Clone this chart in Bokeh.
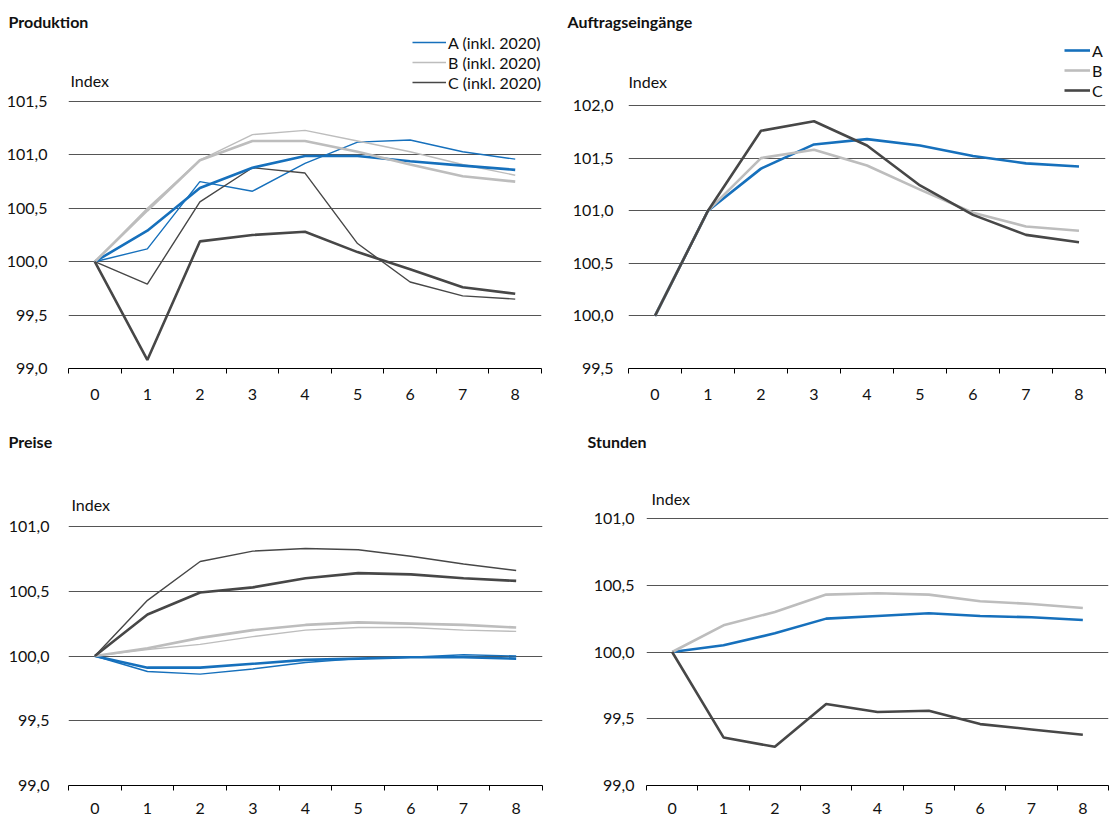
from bokeh.plotting import figure
from bokeh.models import Range1d, FixedTicker, Label, Legend, LegendItem, CustomJSTickFormatter
from bokeh.layouts import column, row
from bokeh.embed import file_html
from bokeh.resources import INLINE

FONT = "Lato"
BLUE = "#1670BC"
LIGHT = "#BDBDBD"
DARK = "#474747"
GRID = "#555555"
TXT = "#111111"

periods = [0, 1, 2, 3, 4, 5, 6, 7, 8]
band_edges = [-0.5, 0.5, 1.5, 2.5, 3.5, 4.5, 5.5, 6.5, 7.5, 8.5]

titles = ["Produktion", "Auftragseingänge", "Preise", "Stunden"]
y_caption = "Index"

# Produktion
prod_A = [100.0, 100.29, 100.69, 100.88, 100.99, 100.99, 100.94, 100.90, 100.86]
prod_A_inkl = [100.0, 100.12, 100.75, 100.66, 100.92, 101.12, 101.14, 101.03, 100.96]
prod_B = [100.0, 100.48, 100.95, 101.13, 101.13, 101.03, 100.91, 100.80, 100.75]
prod_B_inkl = [100.0, 100.50, 100.95, 101.19, 101.23, 101.13, 101.03, 100.91, 100.81]
prod_C = [100.0, 99.08, 100.19, 100.25, 100.28, 100.09, 99.93, 99.76, 99.70]
prod_C_inkl = [100.0, 99.79, 100.56, 100.88, 100.83, 100.17, 99.81, 99.68, 99.65]
prod_ticks = [99.0, 99.5, 100.0, 100.5, 101.0, 101.5]
prod_tick_labels = ["99,0", "99,5", "100,0", "100,5", "101,0", "101,5"]
prod_legend = ["A (inkl. 2020)", "B (inkl. 2020)", "C (inkl. 2020)"]

# Auftragseingänge
auf_A = [100.0, 101.0, 101.40, 101.63, 101.68, 101.62, 101.52, 101.45, 101.42]
auf_B = [100.0, 101.0, 101.50, 101.58, 101.43, 101.20, 100.98, 100.85, 100.81]
auf_C = [100.0, 101.0, 101.76, 101.85, 101.62, 101.24, 100.96, 100.77, 100.70]
auf_ticks = [99.5, 100.0, 100.5, 101.0, 101.5, 102.0]
auf_tick_labels = ["99,5", "100,0", "100,5", "101,0", "101,5", "102,0"]
auf_legend = ["A", "B", "C"]

# Preise
pre_A = [100.0, 99.91, 99.91, 99.94, 99.97, 99.98, 99.99, 99.99, 99.98]
pre_A_inkl = [100.0, 99.88, 99.86, 99.90, 99.95, 99.98, 99.99, 100.01, 100.00]
pre_B = [100.0, 100.06, 100.14, 100.20, 100.24, 100.26, 100.25, 100.24, 100.22]
pre_B_inkl = [100.0, 100.05, 100.09, 100.15, 100.20, 100.22, 100.22, 100.20, 100.19]
pre_C = [100.0, 100.32, 100.49, 100.53, 100.60, 100.64, 100.63, 100.60, 100.58]
pre_C_inkl = [100.0, 100.43, 100.73, 100.81, 100.83, 100.82, 100.77, 100.71, 100.66]
pre_ticks = [99.0, 99.5, 100.0, 100.5, 101.0]
pre_tick_labels = ["99,0", "99,5", "100,0", "100,5", "101,0"]

# Stunden
std_A = [100.0, 100.05, 100.14, 100.25, 100.27, 100.29, 100.27, 100.26, 100.24]
std_B = [100.0, 100.20, 100.30, 100.43, 100.44, 100.43, 100.38, 100.36, 100.33]
std_C = [100.0, 99.36, 99.29, 99.61, 99.55, 99.56, 99.46, 99.42, 99.38]
std_ticks = [99.0, 99.5, 100.0, 100.5, 101.0]
std_tick_labels = ["99,0", "99,5", "100,0", "100,5", "101,0"]


def panel(title, lines, ticks, tick_labels, width, height, bl, br, bt, bb,
          grid_px, ystandoff, xstandoff, title_dx, idx_dx, idx_dy,
          legend_labels=None, legend_pos=None, glyph_w=30):
    frame_h = height - bt - bb
    # extend the range above the top gridline so that captions fit in the frame
    y_end = ticks[0] + (ticks[-1] - ticks[0]) * frame_h / grid_px
    p = figure(width=width, height=height, output_backend="svg",
               toolbar_location=None,
               x_range=Range1d(-0.5, 8.5),
               y_range=Range1d(ticks[0], y_end),
               min_border_left=bl, min_border_right=br,
               min_border_top=bt, min_border_bottom=bb)
    p.outline_line_color = None
    p.xgrid.visible = False
    p.ygrid.ticker = FixedTicker(ticks=ticks)
    p.ygrid.grid_line_color = GRID
    p.ygrid.grid_line_width = 1

    p.title.text = title
    p.title.align = "left"
    p.title.offset = title_dx
    p.title.standoff = 3
    p.title.text_font = FONT
    p.title.text_font_size = "16px"
    p.title.text_font_style = "bold"
    p.title.text_color = TXT

    p.yaxis.ticker = FixedTicker(ticks=ticks)
    p.yaxis.formatter = CustomJSTickFormatter(
        args=dict(tvals=ticks, tlabs=tick_labels),
        code="""
        let best = 0;
        for (let i = 0; i < tvals.length; i++) {
            if (Math.abs(tvals[i] - tick) < Math.abs(tvals[best] - tick)) best = i;
        }
        return tlabs[best];
        """)
    p.yaxis.axis_line_color = None
    p.yaxis.major_tick_line_color = None
    p.yaxis.minor_tick_line_color = None
    p.yaxis.major_tick_out = 0
    p.yaxis.major_label_standoff = ystandoff
    p.yaxis.major_label_text_font = FONT
    p.yaxis.major_label_text_font_size = "16px"
    p.yaxis.major_label_text_color = TXT

    p.xaxis.ticker = FixedTicker(ticks=periods, minor_ticks=band_edges)
    p.xaxis.axis_line_color = "black"
    p.xaxis.axis_line_width = 1
    p.xaxis.major_tick_line_color = None
    p.xaxis.major_tick_out = 0
    p.xaxis.major_tick_in = 0
    p.xaxis.minor_tick_line_color = "black"
    p.xaxis.minor_tick_in = 0
    p.xaxis.minor_tick_out = 5
    p.xaxis.major_label_standoff = xstandoff
    p.xaxis.major_label_text_font = FONT
    p.xaxis.major_label_text_font_size = "16px"
    p.xaxis.major_label_text_color = TXT

    renderers = []
    for vals, color, lw in lines:
        r = p.line(periods, vals, line_color=color, line_width=lw)
        renderers.append(r)

    p.add_layout(Label(x=-0.5, y=ticks[-1], x_offset=idx_dx, y_offset=idx_dy,
                       text=y_caption, text_font=FONT,
                       text_font_size="16px", text_color=TXT,
                       text_baseline="bottom", text_align="left"))

    if legend_labels:
        items = [LegendItem(label=lab, renderers=[renderers[i]])
                 for i, lab in enumerate(legend_labels)]
        leg = Legend(items=items, location=legend_pos, padding=0, margin=0,
                     spacing=0, glyph_width=glyph_w, glyph_height=20,
                     label_height=20, label_standoff=2,
                     label_text_font=FONT, label_text_font_size="16px",
                     label_text_color=TXT,
                     border_line_color=None, background_fill_alpha=0)
        p.add_layout(leg, "center")
    return p


p1 = panel(titles[0],
           [(prod_A_inkl, BLUE, 1.4), (prod_B_inkl, LIGHT, 1.4), (prod_C_inkl, DARK, 1.4),
            (prod_A, BLUE, 2.6), (prod_B, LIGHT, 2.6), (prod_C, DARK, 2.6)],
           prod_ticks, prod_tick_labels, 560, 410, 68, 19, 32, 42,
           267, 21, 15, -60, 2, 12,
           legend_labels=prod_legend, legend_pos="top_right", glyph_w=34)

p2 = panel(titles[1],
           [(auf_A, BLUE, 2.6), (auf_B, LIGHT, 2.6), (auf_C, DARK, 2.6)],
           auf_ticks, auf_tick_labels, 553, 410, 68, 8, 32, 42,
           263, 15, 15, -61, 0, 15,
           legend_labels=auf_legend, legend_pos=(436, 268), glyph_w=26)

p3 = panel(titles[2],
           [(pre_A_inkl, BLUE, 1.4), (pre_B_inkl, LIGHT, 1.4), (pre_C_inkl, DARK, 1.4),
            (pre_A, BLUE, 2.6), (pre_B, LIGHT, 2.6), (pre_C, DARK, 2.6)],
           pre_ticks, pre_tick_labels, 560, 406, 68, 18, 42, 31,
           259, 19, 12, -60, 3, 13)

p4 = panel(titles[3],
           [(std_A, BLUE, 2.6), (std_B, LIGHT, 2.6), (std_C, DARK, 2.6)],
           std_ticks, std_tick_labels, 553, 406, 86, 5, 42, 31,
           267, 12, 12, -59, 5, 11)

layout = column(row(p1, p2), row(p3, p4))
open("out.html", "w").write(file_html(layout, INLINE))
